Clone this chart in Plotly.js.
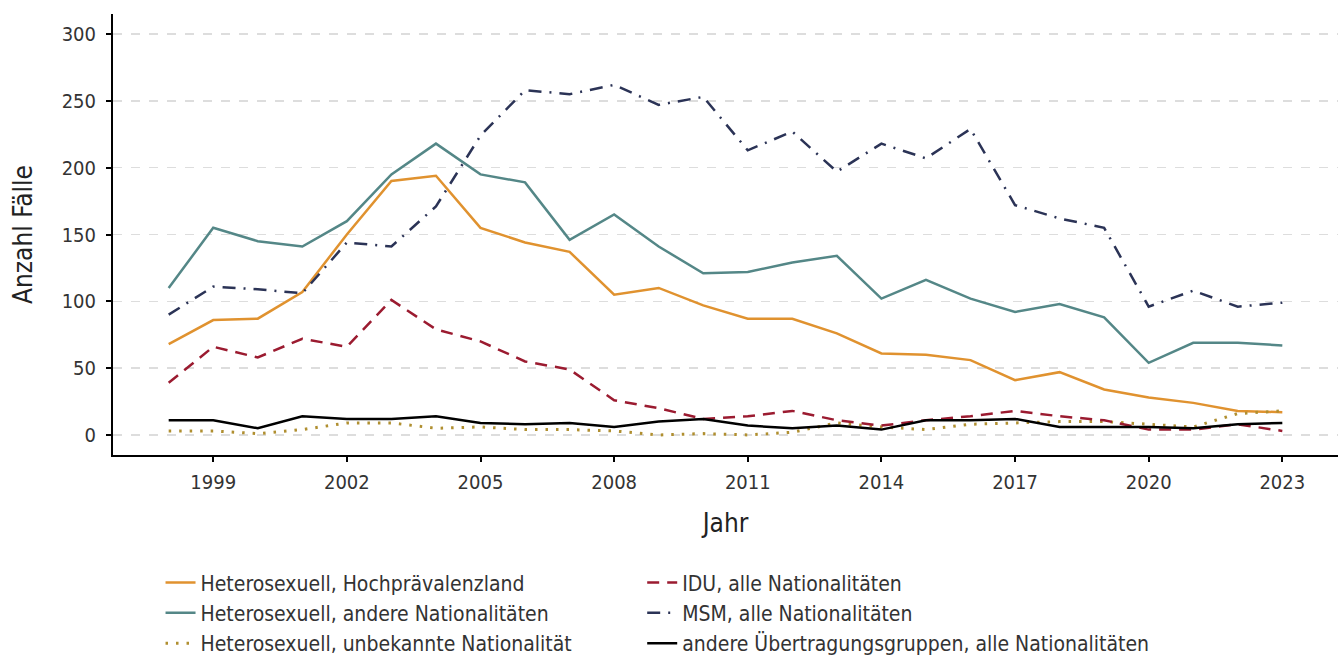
<!DOCTYPE html>
<html>
<head>
<meta charset="utf-8">
<script src="https://cdn.plot.ly/plotly-3.0.1.min.js"></script>
<style>html,body{margin:0;padding:0;background:#fff;}#chart{width:1342px;height:657px;}</style>
</head>
<body>
<div id="chart"></div>
<script>
const years = [1998,1999,2000,2001,2002,2003,2004,2005,2006,2007,2008,2009,2010,2011,2012,2013,2014,2015,2016,2017,2018,2019,2020,2021,2022,2023];

const heteroHPL   = [68,86,87,107,150,190,194,155,144,137,105,110,97,87,87,76,61,60,56,41,47,34,28,24,18,17];
const heteroOther = [110,155,145,141,160,195,218,195,189,146,165,141,121,122,129,134,102,116,102,92,98,88,54,69,69,67];
const heteroUnk   = [3,3,1,4,9,9,5,6,4,4,3,0,1,0,2,9,6,4,8,9,10,10,8,6,16,18];
const idu         = [39,66,58,72,66,101,79,70,55,49,26,20,12,14,18,11,7,11,14,18,14,11,4,4,8,3];
const msm         = [90,111,109,106,144,141,171,224,258,255,262,247,253,213,227,197,218,207,229,172,162,155,96,108,96,99];
const otherGroups = [11,11,5,14,12,12,14,9,8,9,6,10,12,7,5,7,4,11,11,12,6,6,6,5,8,9];

const names = {
  hpl: "Heterosexuell, Hochprävalenzland",
  oth: "Heterosexuell, andere Nationalitäten",
  unk: "Heterosexuell, unbekannte Nationalität",
  idu: "IDU, alle Nationalitäten",
  msm: "MSM, alle Nationalitäten",
  grp: "andere Übertragungsgruppen, alle Nationalitäten"
};

const FONT = "'DejaVu Sans Condensed', 'Liberation Sans Narrow', 'Roboto', sans-serif";

function tr(y, name, color, dash, width, legend) {
  return {x: years, y: y, name: name, type: "scatter", mode: "lines", legend: legend,
          line: {color: color, dash: dash, width: width}};
}

const data = [
  tr(heteroHPL, names.hpl, "#E0922F", "solid", 2.5, "legend"),
  tr(heteroOther, names.oth, "#548787", "solid", 2.5, "legend"),
  tr(heteroUnk, names.unk, "#B08F30", "2.5px,8px", 3, "legend"),
  tr(idu, names.idu, "#9B1B30", "12px,8px", 2.5, "legend2"),
  tr(msm, names.msm, "#2B3356", "13px,8px,2px,8px", 2.5, "legend2"),
  tr(otherGroups, names.grp, "#000000", "solid", 2.5, "legend2")
];

const legendBase = {
  orientation: "v", y: -0.2435, yanchor: "top", xanchor: "left",
  traceorder: "normal", bgcolor: "rgba(0,0,0,0)",
  font: {family: FONT, size: 21, color: "#333333"},
  itemwidth: 30
};

const layout = {
  width: 1342, height: 657,
  margin: {l: 113, r: 4, t: 14, b: 201.5, autoexpand: false},
  paper_bgcolor: "#ffffff", plot_bgcolor: "#ffffff",
  font: {family: FONT, size: 20, color: "#333333"},
  showlegend: true,
  legend: Object.assign({}, legendBase, {x: 0.0388}),
  legend2: Object.assign({}, legendBase, {x: 0.432}),
  xaxis: {
    range: [1996.75, 2024.25], tick0: 1999, dtick: 3, tickmode: "linear",
    showgrid: false, zeroline: false,
    showline: true, linecolor: "#000000", linewidth: 2,
    ticks: "outside", ticklen: 5, tickwidth: 2, tickcolor: "#000000",
    ticklabelstandoff: 3,
    tickfont: {family: FONT, size: 20, color: "#333333"},
    title: {text: "Jahr", font: {family: FONT, size: 26, color: "#222222"}, standoff: 21}
  },
  yaxis: {
    range: [-15, 315], tick0: 0, dtick: 50, tickmode: "linear",
    showgrid: true, gridcolor: "#dddddd", gridwidth: 1.5, griddash: "dash",
    zeroline: false,
    showline: true, linecolor: "#000000", linewidth: 2,
    ticks: "outside", ticklen: 5, tickwidth: 2, tickcolor: "#000000",
    ticklabelstandoff: 6,
    tickfont: {family: FONT, size: 20, color: "#333333"},
    title: {text: "Anzahl Fälle", font: {family: FONT, size: 26, color: "#222222"}, standoff: 22}
  }
};

Plotly.newPlot("chart", data, layout, {displayModeBar: false, staticPlot: true});
</script>
</body>
</html>
